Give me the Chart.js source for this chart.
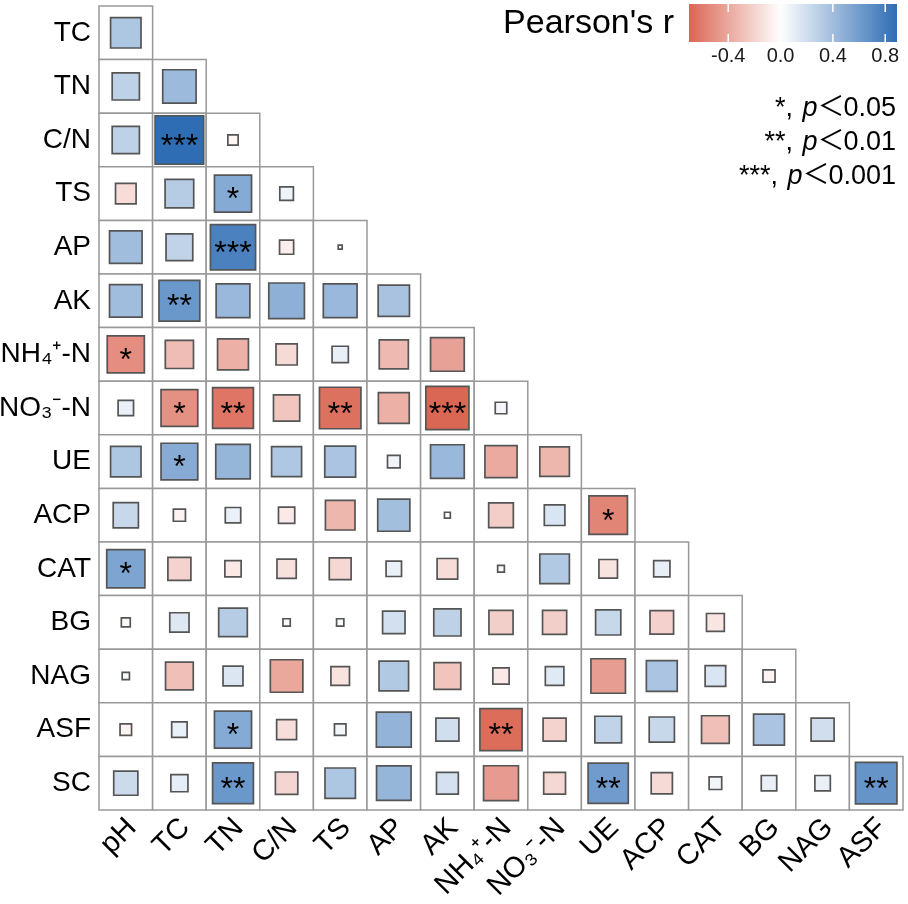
<!DOCTYPE html>
<html>
<head>
<meta charset="utf-8">
<script src="https://cdn.jsdelivr.net/npm/chart.js@4.4.1/dist/chart.umd.min.js"></script>
<style>
  html, body { margin: 0; padding: 0; background: #fff; }
  #wrap { width: 908px; height: 904px; position: relative; }
</style>
</head>
<body>
<div id="wrap"><canvas id="corr"></canvas></div>
<script>
// Подписи осей
const NH4 = 'NH₄⁺-N', NO3 = 'NO₃⁻-N';
const colLabels = ['pH', 'TC', 'TN', 'C/N', 'TS', 'AP', 'AK', NH4, NO3, 'UE', 'ACP', 'CAT', 'BG', 'NAG', 'ASF'];
const rowLabels = ['TC', 'TN', 'C/N', 'TS', 'AP', 'AK', NH4, NO3, 'UE', 'ACP', 'CAT', 'BG', 'NAG', 'ASF', 'SC'];

// Коэффициенты Пирсона по строкам (нижний треугольник)
const rTC = [0.35];
const rTN = [0.28, 0.42];
const rCN = [0.28, 0.89, -0.04];
const rTS = [-0.16, 0.31, 0.52, 0.07];
const rAP = [0.40, 0.27, 0.77, -0.075, 0.006];
const rAK = [0.40, 0.63, 0.43, 0.48, 0.43, 0.37];
const rNH4 = [-0.52, -0.30, -0.36, -0.17, 0.10, -0.32, -0.43];
const rNO3 = [0.09, -0.51, -0.63, -0.26, -0.65, -0.36, -0.70, 0.05];
const rUE = [0.35, 0.51, 0.45, 0.34, 0.36, 0.06, 0.43, -0.39, -0.33];
const rACP = [0.24, -0.055, 0.09, -0.10, -0.33, 0.39, 0.013, -0.23, 0.16, -0.56];
const rCAT = [0.55, -0.20, -0.10, -0.14, -0.18, 0.09, -0.16, 0.017, 0.33, -0.13, 0.10];
const rBG = [-0.03, 0.14, 0.31, 0.02, 0.02, 0.19, 0.28, -0.22, -0.22, 0.24, -0.21, -0.12];
const rNAG = [0.02, -0.29, 0.15, -0.40, -0.13, 0.33, -0.27, -0.10, 0.13, -0.45, 0.36, 0.16, -0.055];
const rASF = [-0.05, 0.09, 0.52, -0.15, 0.05, 0.46, 0.20, -0.67, -0.20, 0.27, 0.24, -0.29, 0.36, 0.20];
const rSC = [0.22, 0.11, 0.63, -0.19, 0.35, 0.45, 0.18, -0.46, -0.18, 0.61, -0.17, 0.06, 0.09, 0.09, 0.65];

const rows = [rTC, rTN, rCN, rTS, rAP, rAK, rNH4, rNO3, rUE, rACP, rCAT, rBG, rNAG, rASF, rSC];

// Значимость: [строка, столбец, звёздочки]
const sigCells = [
	['C/N', 'TC', '***'],
	['TS', 'TN', '*'],
	['AP', 'TN', '***'],
	['AK', 'TC', '**'],
	[NH4, 'pH', '*'],
	[NO3, 'TC', '*'],
	[NO3, 'TN', '**'],
	[NO3, 'TS', '**'],
	[NO3, 'AK', '***'],
	['UE', 'TC', '*'],
	['ACP', 'UE', '*'],
	['CAT', 'pH', '*'],
	['ASF', 'TN', '*'],
	['ASF', NH4, '**'],
	['SC', 'TN', '**'],
	['SC', 'UE', '**'],
	['SC', 'ASF', '**']
];

const colorTicks = [-0.4, 0.0, 0.4, 0.8];
const pNotes = [['*', '0.05'], ['**', '0.01'], ['***', '0.001']];

const FONT = '"Liberation Sans", Arial, sans-serif';
const lowColor = [218, 102, 84];
const highColor = [46, 109, 180];

const allR = rows.flat();
const rMin = Math.min(...allR);
const rMax = Math.max(...allR);

function FillFor(r) {
	const t = r < 0 ? r / rMin : r / rMax;
	const c = r < 0 ? lowColor : highColor;
	return 'rgb(' + c.map(v => Math.round(255 + (v - 255) * t)).join(',') + ')';
}

const cells = [];
rows.forEach((vals, i) => vals.forEach((r, j) => cells.push({ x: j, y: i, r })));

function CellSize(chart) {
	const x = chart.scales.x;
	return Math.abs(x.getPixelForValue(1) - x.getPixelForValue(0));
}

const overlay = {
	id: 'overlay',
	afterDatasetsDraw(chart) {
		const { ctx, scales: { x, y } } = chart;
		ctx.save();

		// звёздочки значимости
		ctx.font = '32px ' + FONT;
		ctx.fillStyle = '#000';
		ctx.textAlign = 'center';
		ctx.textBaseline = 'alphabetic';
		sigCells.forEach(([rowName, colName, stars]) => {
			const px = x.getPixelForValue(colLabels.indexOf(colName));
			const py = y.getPixelForValue(rowLabels.indexOf(rowName));
			ctx.fillText(stars, px, py + 15.5);
		});

		// цветовая шкала
		const x0 = 689, x1 = 897, y0 = 4, y1 = 42;
		const grad = ctx.createLinearGradient(x0, 0, x1, 0);
		for (let k = 0; k <= 40; k++) {
			const v = rMin + (rMax - rMin) * k / 40;
			grad.addColorStop(k / 40, FillFor(v));
		}
		ctx.fillStyle = grad;
		ctx.fillRect(x0, y0, x1 - x0, y1 - y0);

		ctx.strokeStyle = '#fff';
		ctx.lineWidth = 1.5;
		ctx.font = '20px ' + FONT;
		ctx.fillStyle = '#1a1a1a';
		ctx.textAlign = 'center';
		colorTicks.forEach(v => {
			const px = x0 + (v - rMin) / (rMax - rMin) * (x1 - x0);
			ctx.beginPath();
			ctx.moveTo(px, y0); ctx.lineTo(px, y0 + 8);
			ctx.moveTo(px, y1 - 8); ctx.lineTo(px, y1);
			ctx.stroke();
			ctx.fillText(v.toFixed(1), px, 62);
		});

		ctx.textAlign = 'right';
		ctx.font = '34px ' + FONT;
		ctx.fillStyle = '#000';
		ctx.fillText("Pearson's r", 674, 33);

		// подписи p-значений
		pNotes.forEach(([stars, p], i) => {
			const base = 116 + i * 34;
			let right = 896;
			ctx.font = '27px ' + FONT;
			ctx.fillText(p, right, base);
			right -= ctx.measureText(p).width;
			ctx.font = '27px "Noto Sans CJK SC", sans-serif';
			ctx.fillText('＜', right + 1, base);
			right -= ctx.measureText('＜').width - 1;
			ctx.font = 'italic 27px ' + FONT;
			ctx.fillText('p', right, base);
			right -= ctx.measureText('p').width + 2;
			ctx.font = '27px ' + FONT;
			ctx.fillText(stars + ', ', right, base);
		});

		ctx.restore();
	}
};

Chart.defaults.font.family = FONT;

new Chart(document.getElementById('corr'), {
	type: 'scatter',
	data: {
		datasets: [
			{
				label: 'frame',
				data: cells.map(c => ({ x: c.x, y: c.y })),
				pointStyle: 'rect',
				pointRadius: ctx => CellSize(ctx.chart) / Math.SQRT2,
				pointBackgroundColor: '#fff',
				pointBorderColor: '#999',
				pointBorderWidth: 1.5,
				clip: false,
				order: 2
			},
			{
				label: 'r',
				data: cells,
				pointStyle: 'rect',
				pointRadius: ctx => ctx.raw ? Math.sqrt(Math.abs(ctx.raw.r)) * CellSize(ctx.chart) * 0.96 / Math.SQRT2 : 0,
				pointBackgroundColor: ctx => ctx.raw ? FillFor(ctx.raw.r) : '#fff',
				pointBorderColor: '#555',
				pointBorderWidth: 1.7,
				clip: false,
				order: 1
			}
		]
	},
	options: {
		responsive: true,
		maintainAspectRatio: false,
		animation: false,
		events: [],
		layout: { padding: { top: 6, right: 5, left: 0, bottom: 0 } },
		plugins: { legend: { display: false }, tooltip: { enabled: false } },
		scales: {
			x: {
				type: 'linear',
				min: -0.5,
				max: 14.5,
				grid: { display: false, drawTicks: false },
				border: { display: false },
				afterBuildTicks: s => { s.ticks = colLabels.map((_, i) => ({ value: i })); },
				afterFit: s => { s.height = 94; s.paddingLeft = 0; s.paddingRight = 0; },
				ticks: {
					autoSkip: false,
					minRotation: 45,
					maxRotation: 45,
					padding: 1,
					labelOffset: 6,
					color: '#000',
					font: { size: 29 },
					callback: v => colLabels[v]
				}
			},
			y: {
				type: 'linear',
				reverse: true,
				min: -0.5,
				max: 14.5,
				grid: { display: false, drawTicks: false },
				border: { display: false },
				afterBuildTicks: s => { s.ticks = rowLabels.map((_, i) => ({ value: i })); },
				afterFit: s => { s.width = 99; s.paddingTop = 0; s.paddingBottom = 0; },
				ticks: {
					autoSkip: false,
					padding: 8,
					color: '#000',
					font: { size: 28 },
					callback: v => rowLabels[v]
				}
			}
		}
	},
	plugins: [overlay]
});
</script>
</body>
</html>
